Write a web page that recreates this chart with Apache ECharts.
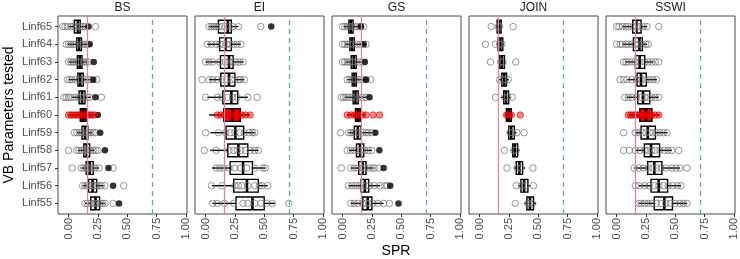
<!DOCTYPE html>
<html>
<head>
<meta charset="utf-8">
<script src="https://cdn.jsdelivr.net/npm/echarts@6/dist/echarts.min.js"></script>
<style>
  html, body { margin: 0; padding: 0; background: #fff; }
  #chart { width: 740px; height: 259px; }
</style>
</head>
<body>
<div id="chart"></div>
<script>
// rows, bottom (Linf55) to top (Linf65)
const categories = ['Linf55', 'Linf56', 'Linf57', 'Linf58', 'Linf59', 'Linf60', 'Linf61', 'Linf62', 'Linf63', 'Linf64', 'Linf65']
const panels = ['BS', 'EI', 'GS', 'JOIN', 'SSWI']
const highlightRow = 'Linf60'
const lowLine = 0.16
const highLine = 0.71
const xTicks = [0, 0.25, 0.5, 0.75, 1]

// box stats per row: [lower whisker, q1, median, q3, upper whisker]
const bsBox = [
  [0.14, 0.19, 0.23, 0.265, 0.31], [0.12, 0.17, 0.205, 0.24, 0.30], [0.11, 0.15, 0.18, 0.21, 0.26],
  [0.08, 0.13, 0.155, 0.18, 0.22], [0.07, 0.115, 0.14, 0.165, 0.20], [0.00, 0.10, 0.125, 0.15, 0.22],
  [0.03, 0.09, 0.115, 0.14, 0.19], [0.00, 0.08, 0.10, 0.125, 0.18], [0.00, 0.075, 0.095, 0.115, 0.17],
  [-0.01, 0.07, 0.09, 0.11, 0.17], [0.00, 0.05, 0.08, 0.10, 0.16]
]
const eiBox = [
  [0.06, 0.26, 0.40, 0.50, 0.59], [0.056, 0.24, 0.353, 0.45, 0.53], [0.056, 0.21, 0.32, 0.40, 0.51],
  [0.04, 0.19, 0.28, 0.36, 0.45], [0.04, 0.175, 0.254, 0.325, 0.42], [0.03, 0.155, 0.23, 0.297, 0.38],
  [0.015, 0.147, 0.22, 0.274, 0.36], [0.03, 0.13, 0.20, 0.25, 0.33], [0.00, 0.127, 0.20, 0.235, 0.325],
  [0.015, 0.12, 0.17, 0.22, 0.30], [0.03, 0.11, 0.19, 0.22, 0.28]
]
const gsBox = [
  [0.068, 0.172, 0.215, 0.25, 0.35], [0.054, 0.158, 0.19, 0.223, 0.32], [0.068, 0.138, 0.17, 0.20, 0.265],
  [0.054, 0.119, 0.15, 0.18, 0.25], [0.05, 0.10, 0.13, 0.158, 0.25], [0.04, 0.11, 0.13, 0.152, 0.195],
  [0.025, 0.09, 0.11, 0.133, 0.21], [0.04, 0.082, 0.10, 0.118, 0.21], [0.025, 0.074, 0.095, 0.116, 0.18],
  [0.02, 0.062, 0.08, 0.10, 0.20], [0.01, 0.054, 0.07, 0.09, 0.18]
]
const joinBox = [
  [0.384, 0.404, 0.43, 0.46, 0.483], [0.333, 0.353, 0.38, 0.412, 0.432], [0.296, 0.313, 0.34, 0.367, 0.39],
  [0.27, 0.283, 0.30, 0.325, 0.34], [0.234, 0.249, 0.27, 0.297, 0.314], [0.212, 0.229, 0.25, 0.271, 0.285],
  [0.184, 0.206, 0.225, 0.248, 0.263], [0.164, 0.19, 0.21, 0.23, 0.248], [0.165, 0.172, 0.19, 0.212, 0.22],
  [0.15, 0.158, 0.178, 0.198, 0.205], [0.14, 0.15, 0.168, 0.184, 0.19]
]
const sswiBox = [
  [0.19, 0.322, 0.407, 0.477, 0.60], [0.19, 0.294, 0.359, 0.435, 0.548], [0.147, 0.266, 0.322, 0.387, 0.542],
  [0.161, 0.237, 0.294, 0.367, 0.472], [0.161, 0.209, 0.266, 0.331, 0.435], [0.105, 0.198, 0.25, 0.302, 0.373],
  [0.085, 0.181, 0.226, 0.283, 0.358], [0.09, 0.175, 0.209, 0.254, 0.345], [0.076, 0.161, 0.197, 0.24, 0.316],
  [0.05, 0.144, 0.195, 0.22, 0.26], [0.05, 0.138, 0.169, 0.209, 0.26]
]

// individual runs per row
const bsPoints = [
  [0.14, 0.16, 0.19, 0.21, 0.23, 0.25, 0.27, 0.29, 0.31, 0.38],
  [0.12, 0.14, 0.16, 0.18, 0.20, 0.22, 0.24, 0.26, 0.28, 0.31, 0.47],
  [0.03, 0.11, 0.13, 0.15, 0.17, 0.19, 0.21, 0.23, 0.26, 0.38],
  [0.00, 0.07, 0.09, 0.11, 0.13, 0.15, 0.17, 0.19, 0.21, 0.23, 0.25],
  [0.05, 0.07, 0.09, 0.11, 0.13, 0.15, 0.17, 0.19, 0.21, 0.23],
  [0.00, 0.02, 0.04, 0.06, 0.08, 0.10, 0.12, 0.14, 0.16, 0.18, 0.20, 0.22],
  [-0.04, -0.02, 0.00, 0.02, 0.05, 0.08, 0.10, 0.13, 0.16, 0.18, 0.28],
  [-0.01, 0.01, 0.03, 0.06, 0.09, 0.11, 0.14, 0.17, 0.19, 0.24],
  [0.00, 0.02, 0.04, 0.06, 0.08, 0.11, 0.13, 0.15, 0.17],
  [-0.02, 0.00, 0.02, 0.04, 0.06, 0.10, 0.12, 0.14, 0.16],
  [-0.05, -0.03, -0.01, 0.02, 0.04, 0.06, 0.08, 0.10, 0.12, 0.14, 0.23]
]
const eiPoints = [
  [0.06, 0.10, 0.16, 0.24, 0.32, 0.36, 0.42, 0.47, 0.52, 0.57, 0.71],
  [0.05, 0.14, 0.25, 0.28, 0.31, 0.36, 0.42, 0.46, 0.48, 0.53],
  [0.09, 0.12, 0.15, 0.20, 0.25, 0.30, 0.35, 0.42, 0.49, 0.51],
  [-0.01, 0.09, 0.20, 0.24, 0.27, 0.30, 0.34, 0.38, 0.42, 0.45],
  [0.00, 0.11, 0.17, 0.21, 0.25, 0.29, 0.33, 0.37, 0.40, 0.42],
  [0.10, 0.13, 0.16, 0.19, 0.22, 0.25, 0.28, 0.31, 0.34, 0.38],
  [0.00, 0.10, 0.14, 0.19, 0.23, 0.27, 0.36, 0.44],
  [-0.03, 0.03, 0.06, 0.10, 0.14, 0.18, 0.22, 0.25, 0.28, 0.30, 0.33],
  [0.00, 0.03, 0.06, 0.12, 0.17, 0.20, 0.23, 0.26, 0.29, 0.32],
  [0.015, 0.05, 0.09, 0.12, 0.15, 0.18, 0.21, 0.24, 0.27, 0.30],
  [0.03, 0.05, 0.07, 0.09, 0.11, 0.14, 0.17, 0.20, 0.23, 0.28, 0.47]
]
const gsPoints = [
  [0.07, 0.10, 0.13, 0.17, 0.20, 0.23, 0.26, 0.30, 0.35, 0.40],
  [0.05, 0.08, 0.11, 0.14, 0.17, 0.20, 0.23, 0.27, 0.32, 0.36, 0.38],
  [-0.01, 0.07, 0.10, 0.13, 0.16, 0.19, 0.22, 0.25, 0.27, 0.31],
  [0.04, 0.07, 0.10, 0.13, 0.16, 0.19, 0.22, 0.25],
  [-0.017, 0.05, 0.07, 0.09, 0.11, 0.14, 0.17, 0.20, 0.22, 0.25],
  [0.04, 0.07, 0.10, 0.12, 0.14, 0.17, 0.20, 0.26, 0.316],
  [-0.01, 0.01, 0.03, 0.05, 0.08, 0.11, 0.14, 0.17, 0.20],
  [0.04, 0.06, 0.08, 0.11, 0.14, 0.17, 0.20, 0.24],
  [0.00, 0.02, 0.04, 0.06, 0.08, 0.11, 0.14, 0.17],
  [0.00, 0.02, 0.04, 0.06, 0.09, 0.12, 0.15, 0.20],
  [0.00, 0.02, 0.04, 0.06, 0.08, 0.10, 0.12, 0.15, 0.18]
]
const joinPoints = [
  [0.305, 0.41, 0.43, 0.45], [0.313, 0.36, 0.39, 0.46], [0.234, 0.32, 0.35, 0.455],
  [0.212, 0.29, 0.31], [0.26, 0.28, 0.319, 0.38], [0.23, 0.25, 0.27, 0.347],
  [0.136, 0.21, 0.24, 0.277], [0.17, 0.20, 0.22, 0.245], [0.093, 0.18, 0.20, 0.308],
  [0.05, 0.136, 0.17, 0.19], [0.099, 0.16, 0.17, 0.286]
]
const sswiPoints = [
  [0.19, 0.21, 0.24, 0.27, 0.30, 0.34, 0.38, 0.42, 0.46, 0.50, 0.54, 0.57, 0.60],
  [0.16, 0.19, 0.24, 0.28, 0.32, 0.36, 0.40, 0.44, 0.48, 0.52, 0.55],
  [0.15, 0.19, 0.23, 0.27, 0.31, 0.34, 0.38, 0.42, 0.47, 0.51, 0.54, 0.60],
  [0.06, 0.11, 0.16, 0.20, 0.24, 0.27, 0.30, 0.33, 0.37, 0.41, 0.44, 0.47, 0.53],
  [0.06, 0.16, 0.19, 0.22, 0.25, 0.28, 0.31, 0.34, 0.37, 0.40, 0.43],
  [0.10, 0.12, 0.14, 0.16, 0.18, 0.20, 0.22, 0.24, 0.26, 0.28, 0.30, 0.33, 0.36],
  [0.07, 0.10, 0.13, 0.17, 0.21, 0.24, 0.27, 0.30, 0.33, 0.36],
  [0.03, 0.06, 0.09, 0.13, 0.17, 0.21, 0.25, 0.28, 0.31, 0.34],
  [0.06, 0.08, 0.10, 0.13, 0.16, 0.20, 0.24, 0.27, 0.30, 0.33, 0.36],
  [0.00, 0.03, 0.05, 0.08, 0.10, 0.13, 0.16, 0.19, 0.22, 0.25, 0.27],
  [0.00, 0.02, 0.05, 0.08, 0.10, 0.14, 0.17, 0.20, 0.23, 0.26, 0.36]
]

// boxplot outliers (solid black dots)
const bsOutliers = [[0.43], [0.38], [0.34], [0.31], [0.27], [0.25], [0.23], [0.21], [0.215], [0.18], [0.17]]
const eiOutliers = [[], [], [], [], [], [], [], [], [], [], [0.56]]
const gsOutliers = [[0.477], [0.407], [0.35], [0.314], [0.28], [], [0.23], [0.20], [0.19], [0.18], [0.158]]
const joinOutliers = [[], [], [], [], [], [], [], [], [], [], []]
const sswiOutliers = [[], [], [], [], [], [], [], [], [], [], []]

const boxes = [bsBox, eiBox, gsBox, joinBox, sswiBox]
const points = [bsPoints, eiPoints, gsPoints, joinPoints, sswiPoints]
const outliers = [bsOutliers, eiOutliers, gsOutliers, joinOutliers, sswiOutliers]

const boxHeight = 0.72
const rowIdx = categories.map((c, i) => i)
const font = 'Liberation Sans, Arial, sans-serif'

function renderBox (params, api) {
  const row = api.value(0)
  const y = api.coord([0, row])[1]
  const x = [1, 2, 3, 4, 5].map(d => api.coord([api.value(d), row])[0])
  const h = api.size([0, boxHeight])[1]
  const hot = categories[row] === highlightRow
  const ln = { stroke: '#000', lineWidth: 1.4 }
  return {
    type: 'group',
    children: [
      { type: 'line', shape: { x1: x[0], y1: y, x2: x[1], y2: y }, style: ln },
      { type: 'line', shape: { x1: x[3], y1: y, x2: x[4], y2: y }, style: ln },
      { type: 'rect', shape: { x: x[1], y: y - h / 2, width: x[3] - x[1], height: h },
        style: { fill: hot ? '#ff0000' : '#fff', stroke: '#000', lineWidth: 1.4 } },
      { type: 'line', shape: { x1: x[2], y1: y - h / 2, x2: x[2], y2: y + h / 2 }, style: { stroke: '#000', lineWidth: 2.6 } }
    ]
  }
}

const chart = echarts.init(document.getElementById('chart'))
const grids = []
const xAxes = []
const yAxes = []
const series = []
const graphics = []

panels.forEach((name, p) => {
  const left = 58 + 137 * p
  grids.push({ left: left, top: 16, width: 129, height: 198, show: true, borderColor: '#4a4a4a', borderWidth: 1, backgroundColor: '#fff' })
  // onZero off, otherwise ticks sit on the zero line inside the panel
  xAxes.push({
    gridIndex: p, type: 'value', min: -0.09, max: 1.01,
    axisLine: { show: false, onZero: false }, splitLine: { show: false },
    axisTick: { show: true, customValues: xTicks, length: 3, lineStyle: { color: '#333' } },
    axisLabel: { customValues: xTicks, rotate: 90, fontSize: 11, fontFamily: font, color: '#4d4d4d', margin: 4,
      formatter: v => v.toFixed(2) }
  })
  yAxes.push({
    gridIndex: p, type: 'value', min: -0.6, max: 10.6,
    axisLine: { show: false, onZero: false }, splitLine: { show: false },
    axisTick: { show: p === 0, customValues: rowIdx, length: 3, lineStyle: { color: '#333' } },
    axisLabel: { show: p === 0, customValues: rowIdx, fontSize: 11, fontFamily: font, color: '#4d4d4d', margin: 6,
      formatter: v => categories[Math.round(v)] },
    name: p === 0 ? 'VB Parameters tested' : '',
    nameLocation: 'middle', nameGap: 42,
    nameTextStyle: { fontSize: 14, fontFamily: font, color: '#000' }
  })

  // boxes
  series.push({
    type: 'custom', xAxisIndex: p, yAxisIndex: p,
    data: boxes[p].map((b, i) => [i].concat(b)),
    encode: { x: [1, 2, 3, 4, 5], y: 0 },
    renderItem: renderBox, z: 2, silent: true
  })

  const gray = []
  const red = []
  points[p].forEach((row, i) => {
    row.forEach(v => (categories[i] === highlightRow ? red : gray).push([v, i]))
  })
  const black = []
  outliers[p].forEach((row, i) => row.forEach(v => black.push([v, i])))

  series.push({
    type: 'scatter', xAxisIndex: p, yAxisIndex: p, data: gray, symbolSize: 6.5, z: 3, silent: true,
    itemStyle: { color: 'rgba(0,0,0,0)', borderColor: '#6e6e6e', borderWidth: 0.9 },
    markLine: {
      silent: true, symbol: 'none', animation: false, label: { show: false }, z: 5,
      data: [
        { xAxis: lowLine, lineStyle: { color: '#e3849b', type: 'solid', width: 1.3 } },
        { xAxis: highLine, lineStyle: { color: '#6cae8e', type: [5, 4], width: 1.3 } }
      ]
    }
  })
  series.push({
    type: 'scatter', xAxisIndex: p, yAxisIndex: p, data: black, symbolSize: 6.5, z: 4, silent: true,
    itemStyle: { color: '#000' }
  })
  series.push({
    type: 'scatter', xAxisIndex: p, yAxisIndex: p, data: red, symbolSize: 6.5, z: 4, silent: true,
    itemStyle: { color: 'rgba(255,0,0,0.6)', borderColor: 'rgba(190,0,0,0.8)', borderWidth: 0.9 }
  })

  graphics.push({
    type: 'text', x: left + 64.5, y: 8,
    style: { text: name, textAlign: 'center', textVerticalAlign: 'middle', fontSize: 12, fontFamily: font, fill: '#1a1a1a' }
  })
})

graphics.push({
  type: 'text', x: 396, y: 251,
  style: { text: 'SPR', textAlign: 'center', textVerticalAlign: 'middle', fontSize: 14, fontFamily: font, fill: '#000' }
})

chart.setOption({
  animation: false,
  grid: grids,
  xAxis: xAxes,
  yAxis: yAxes,
  series: series,
  graphic: graphics
})
</script>
</body>
</html>
